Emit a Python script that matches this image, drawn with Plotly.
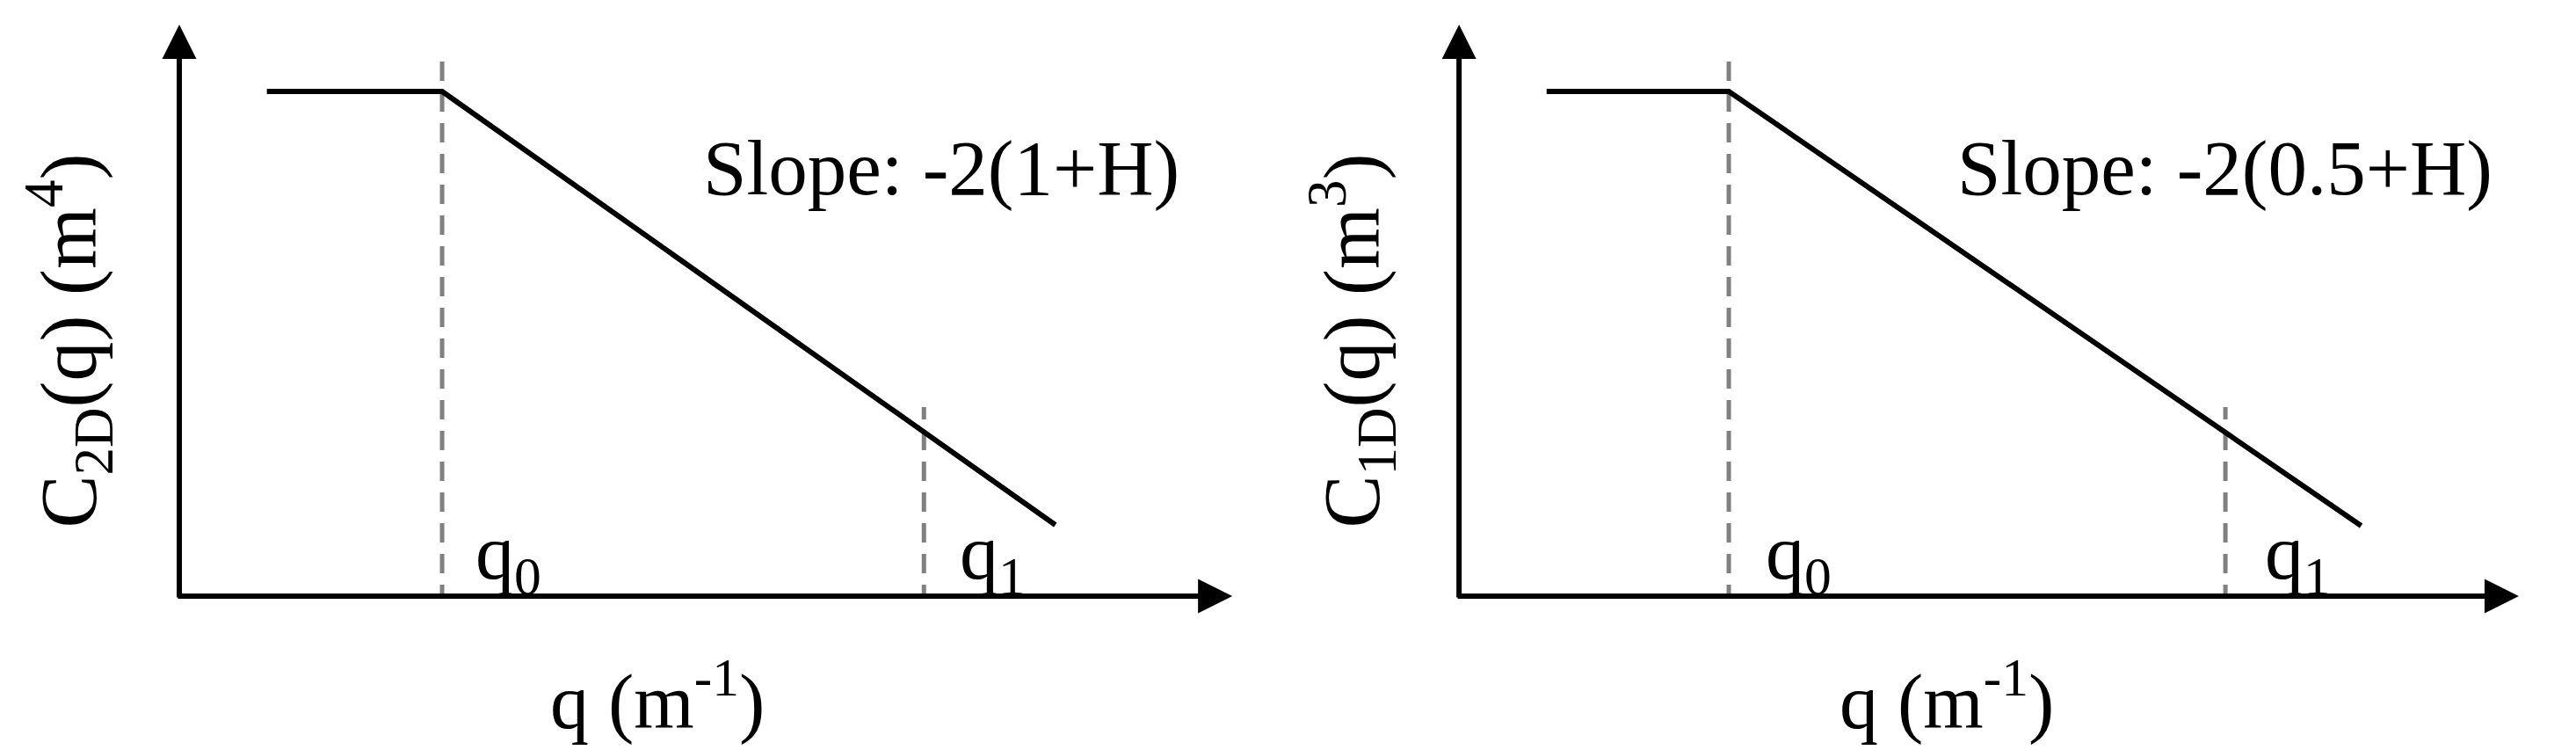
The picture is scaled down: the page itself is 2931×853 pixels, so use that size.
import plotly.graph_objects as go

# ---- data (arbitrary log-log units) ----
left_x = [1.0, 3.0, 10.0]
left_y = [5.74, 5.74, 0.81]
right_x = [1.0, 3.08, 10.3]
right_y = [5.74, 5.74, 0.8]

left_q0, left_q1 = 3.0, 8.5
right_q0, right_q1 = 3.08, 8.75
q0_span = [-0.44, 6.19]
q1_span = [-0.44, 2.15]

slope_labels = ["Slope: -2(1+H)", "Slope: -2(0.5+H)"]
y_titles = ["C<sub>2D</sub>(q) (m<sup>4</sup>)", "C<sub>1D</sub>(q) (m<sup>3</sup>)"]
x_title = "q (m<sup>-1</sup>)"

X_RANGE = [0, 12.3]
Y_RANGE = [0, 6.5]

FONT = "Liberation Serif, Times New Roman, serif"
GRAY = "#808080"

fig = go.Figure()

panels = [
    dict(x=left_x, y=left_y, q0=left_q0, q1=left_q1, xa="x", ya="y", tip=12.02,
         slope_x=8.70, q0_lab=3.76, q1_lab=9.28, xt_paper=0.2552, yt_paper=0.0267),
    dict(x=right_x, y=right_y, q0=right_q0, q1=right_q1, xa="x2", ya="y2", tip=12.1,
         slope_x=8.74, q0_lab=3.88, q1_lab=9.58, xt_paper=0.7557, yt_paper=0.5248),
]

for i, p in enumerate(panels):
    # dashed markers for q0 and q1
    for qv, span in ((p["q0"], q0_span), (p["q1"], q1_span)):
        fig.add_trace(go.Scatter(
            x=[qv, qv], y=span, mode="lines", xaxis=p["xa"], yaxis=p["ya"],
            line=dict(color=GRAY, width=5, dash="22px,13px"),
            showlegend=False, hoverinfo="skip"))
    # spectrum line
    fig.add_trace(go.Scatter(
        x=p["x"], y=p["y"], mode="lines", xaxis=p["xa"], yaxis=p["ya"],
        line=dict(color="black", width=6), showlegend=False))

    xref, yref = p["xa"], p["ya"]
    # axes with arrowheads
    fig.add_annotation(x=p["tip"], y=0, ax=-0.03, ay=0, xref=xref, yref=yref,
                       axref=xref, ayref=yref, text="", showarrow=True,
                       arrowhead=2, arrowsize=1.3, arrowwidth=6, arrowcolor="black")
    fig.add_annotation(x=0, y=Y_RANGE[1], ax=0, ay=-0.03, xref=xref, yref=yref,
                       axref=xref, ayref=yref, text="", showarrow=True,
                       arrowhead=2, arrowsize=1.3, arrowwidth=6, arrowcolor="black")
    # texts
    fig.add_annotation(x=p["slope_x"], y=4.87, xref=xref, yref=yref, text=slope_labels[i],
                       showarrow=False, xanchor="center", yanchor="middle",
                       font=dict(family=FONT, size=89, color="black"))
    fig.add_annotation(x=p["q0_lab"], y=0.43, xref=xref, yref=yref, text="q<sub>0</sub>",
                       showarrow=False, xanchor="center", yanchor="middle",
                       font=dict(family=FONT, size=88, color="black"))
    fig.add_annotation(x=p["q1_lab"], y=0.43, xref=xref, yref=yref, text="q<sub>1</sub>",
                       showarrow=False, xanchor="center", yanchor="middle",
                       font=dict(family=FONT, size=88, color="black"))
    fig.add_annotation(x=p["xt_paper"], y=0.072, xref="paper", yref="paper", text=x_title,
                       showarrow=False, xanchor="center", yanchor="middle",
                       font=dict(family=FONT, size=88, color="black"))
    fig.add_annotation(x=p["yt_paper"], y=0.546, xref="paper", yref="paper", text=y_titles[i],
                       textangle=-90, showarrow=False, xanchor="center", yanchor="middle",
                       font=dict(family=FONT, size=90, color="black"))

axis_common = dict(showgrid=False, zeroline=False, showline=False,
                   showticklabels=False, ticks="")
fig.update_layout(
    width=2931, height=853,
    margin=dict(l=0, r=0, t=0, b=0),
    paper_bgcolor="white", plot_bgcolor="white",
    xaxis=dict(domain=[0.0696, 0.4879], range=X_RANGE, **axis_common),
    yaxis=dict(domain=[0.2052, 0.9672], range=Y_RANGE, **axis_common),
    xaxis2=dict(domain=[0.5664, 0.9846], range=X_RANGE, anchor="y2", **axis_common),
    yaxis2=dict(domain=[0.2052, 0.9672], range=Y_RANGE, anchor="x2", **axis_common),
    showlegend=False,
)

fig.write_html("out.html", config={"displayModeBar": False},
               post_script="document.body.style.margin='0';document.body.style.overflow='hidden';")
